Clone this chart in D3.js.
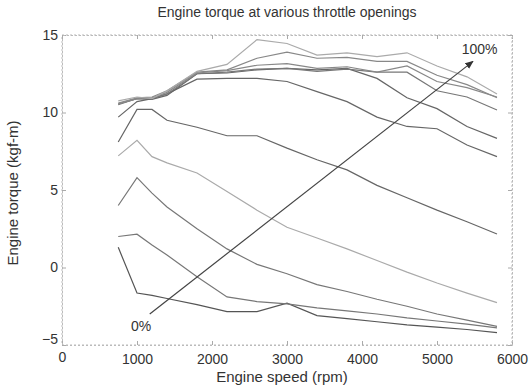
<!DOCTYPE html>
<html lang="en">
<head>
<meta charset="UTF-8">
<script src="https://d3js.org/d3.v7.min.js"></script>
<title>Engine torque</title>
<style>
    body { margin: 0; background: #fff; }
    svg text { font-family: "Liberation Sans", Arial, sans-serif; fill: #333; }
    .tick text { font-size: 14px; }
</style>
</head>
<body>
<div id="chart"></div>
<script>
// engine speed samples (rpm)
var rpm = [750, 1000, 1200, 1400, 1800, 2200, 2600, 3000, 3400, 3800, 4200, 4600, 5000, 5400, 5800];

// torque (kgf-m) for each throttle opening, 0% .. 100%
var t0   = [1.3, -1.65, -1.8, -2.0, -2.4, -2.85, -2.85, -2.3, -3.1, -3.3, -3.5, -3.7, -3.85, -4.0, -4.2];
var t10  = [2.0, 2.15, 1.45, 0.8, -0.6, -1.9, -2.2, -2.35, -2.6, -2.8, -3.0, -3.25, -3.45, -3.65, -3.9];
var t20  = [4.0, 5.8, 4.8, 3.9, 2.5, 1.2, 0.2, -0.4, -1.1, -1.55, -2.05, -2.5, -3.0, -3.4, -3.8];
var t30  = [7.2, 8.2, 7.15, 6.75, 6.1, 4.9, 3.7, 2.6, 1.9, 1.2, 0.45, -0.3, -1.0, -1.65, -2.27];
var t40  = [8.1, 10.2, 10.2, 9.5, 9.05, 8.5, 8.5, 7.7, 6.95, 6.3, 5.3, 4.5, 3.7, 2.95, 2.16];
var t50  = [9.7, 10.7, 10.9, 11.2, 12.15, 12.2, 12.2, 12.0, 11.35, 10.7, 9.7, 9.1, 8.95, 7.9, 7.15];
var t60  = [10.55, 10.9, 10.85, 11.1, 12.5, 12.55, 12.75, 12.85, 12.75, 12.85, 12.2, 10.95, 10.25, 9.1, 8.33];
var t70  = [10.5, 10.9, 10.9, 11.2, 12.5, 12.6, 12.8, 12.85, 12.65, 12.8, 12.6, 12.6, 11.4, 11.0, 10.16];
var t80  = [10.55, 10.9, 10.95, 11.3, 12.55, 12.7, 13.05, 13.15, 12.85, 12.95, 12.6, 13.0, 12.0, 11.6, 11.0];
var t90  = [10.6, 10.95, 11.0, 11.4, 12.6, 12.75, 13.5, 13.9, 13.5, 13.55, 13.3, 13.3, 12.4, 11.8, 10.95];
var t100 = [10.75, 11.0, 10.9, 11.4, 12.65, 13.1, 14.7, 14.45, 13.7, 13.85, 13.6, 13.85, 13.0, 12.3, 11.2];

var series = [t0, t10, t20, t30, t40, t50, t60, t70, t80, t90, t100];

var xTicks = [0, 1000, 2000, 3000, 4000, 5000, 6000];
var yTicks = [-5, 0, 5, 10, 15];

// arrow from 0% to 100% (rpm, torque)
var arrowFrom = [1170, -3.0], arrowTo = [5480, 13.3];

var width = 529, height = 388;
var lineColors = ["#555", "#777", "#777", "#aaa", "#666", "#666", "#666", "#777", "#888", "#888", "#aaa"];

var svg = d3.select("#chart").append("svg")
    .attr("width", width)
    .attr("height", height);

var x = d3.scaleLinear().domain([0, 6000]).range([62, 512]);
var y = d3.scaleLinear().domain([-5, 15]).range([345, 35]);

// frame
svg.append("rect")
    .attr("x", x(0)).attr("y", y(15))
    .attr("width", x(6000) - x(0)).attr("height", y(-5) - y(15))
    .attr("fill", "none").attr("stroke", "#bbb")
    .attr("stroke-dasharray", "2,2");

// axes (ticks point inward)
var xAxis = svg.append("g")
    .attr("transform", "translate(0," + y(-5) + ")")
    .call(d3.axisBottom(x).tickValues(xTicks).tickSize(-4).tickPadding(9).tickFormat(d3.format("d")));
var yAxis = svg.append("g")
    .attr("transform", "translate(" + x(0) + ",0)")
    .call(d3.axisLeft(y).tickValues(yTicks).tickSize(-4).tickPadding(4));
svg.append("g")
    .attr("transform", "translate(0," + y(15) + ")")
    .call(d3.axisTop(x).tickValues(xTicks).tickSize(-4).tickFormat(""));
svg.append("g")
    .attr("transform", "translate(" + x(6000) + ",0)")
    .call(d3.axisRight(y).tickValues(yTicks).tickSize(-4).tickFormat(""));

svg.selectAll(".domain").attr("stroke", "#bbb").attr("stroke-dasharray", "2,2");
svg.selectAll(".tick line").attr("stroke", "#aaa");

// MATLAB puts the corner labels slightly apart
xAxis.selectAll(".tick text").filter(function (d) { return d === 0; }).attr("dy", "0.55em");
yAxis.selectAll(".tick text").filter(function (d) { return d === -5; }).attr("dy", "-0.1em");

// torque curves
var line = d3.line()
    .x(function (d, i) { return x(rpm[i]); })
    .y(function (d) { return y(d); });

svg.append("g").selectAll("path")
    .data(series)
    .enter()
    .append("path")
    .attr("d", line)
    .attr("fill", "none")
    .attr("stroke", function (d, i) { return lineColors[i]; })
    .attr("stroke-width", 1.2);

// arrow
svg.append("defs").append("marker")
    .attr("id", "head")
    .attr("viewBox", "0 0 10 10")
    .attr("refX", 9).attr("refY", 5)
    .attr("markerWidth", 7).attr("markerHeight", 7)
    .attr("orient", "auto")
    .append("path")
    .attr("d", "M0,1 L10,5 L0,9 Z")
    .attr("fill", "#333");

svg.append("line")
    .attr("x1", x(arrowFrom[0])).attr("y1", y(arrowFrom[1]))
    .attr("x2", x(arrowTo[0])).attr("y2", y(arrowTo[1]))
    .attr("stroke", "#444").attr("stroke-width", 1.2)
    .attr("marker-end", "url(#head)");

svg.append("text")
    .attr("x", x(920)).attr("y", y(-4.1))
    .style("font-size", "14px")
    .text("0%");
svg.append("text")
    .attr("x", x(5330)).attr("y", y(13.8))
    .style("font-size", "14px")
    .text("100%");

// titles
svg.append("text")
    .attr("x", 287).attr("y", 17)
    .attr("text-anchor", "middle")
    .style("font-size", "14px")
    .text("Engine torque at various throttle openings");

svg.append("text")
    .attr("x", 282).attr("y", 382)
    .attr("text-anchor", "middle")
    .style("font-size", "15px")
    .text("Engine speed (rpm)");

svg.append("text")
    .attr("transform", "translate(18," + 193 + ") rotate(-90)")
    .attr("text-anchor", "middle")
    .style("font-size", "15px")
    .text("Engine torque (kgf-m)");
</script>
</body>
</html>
